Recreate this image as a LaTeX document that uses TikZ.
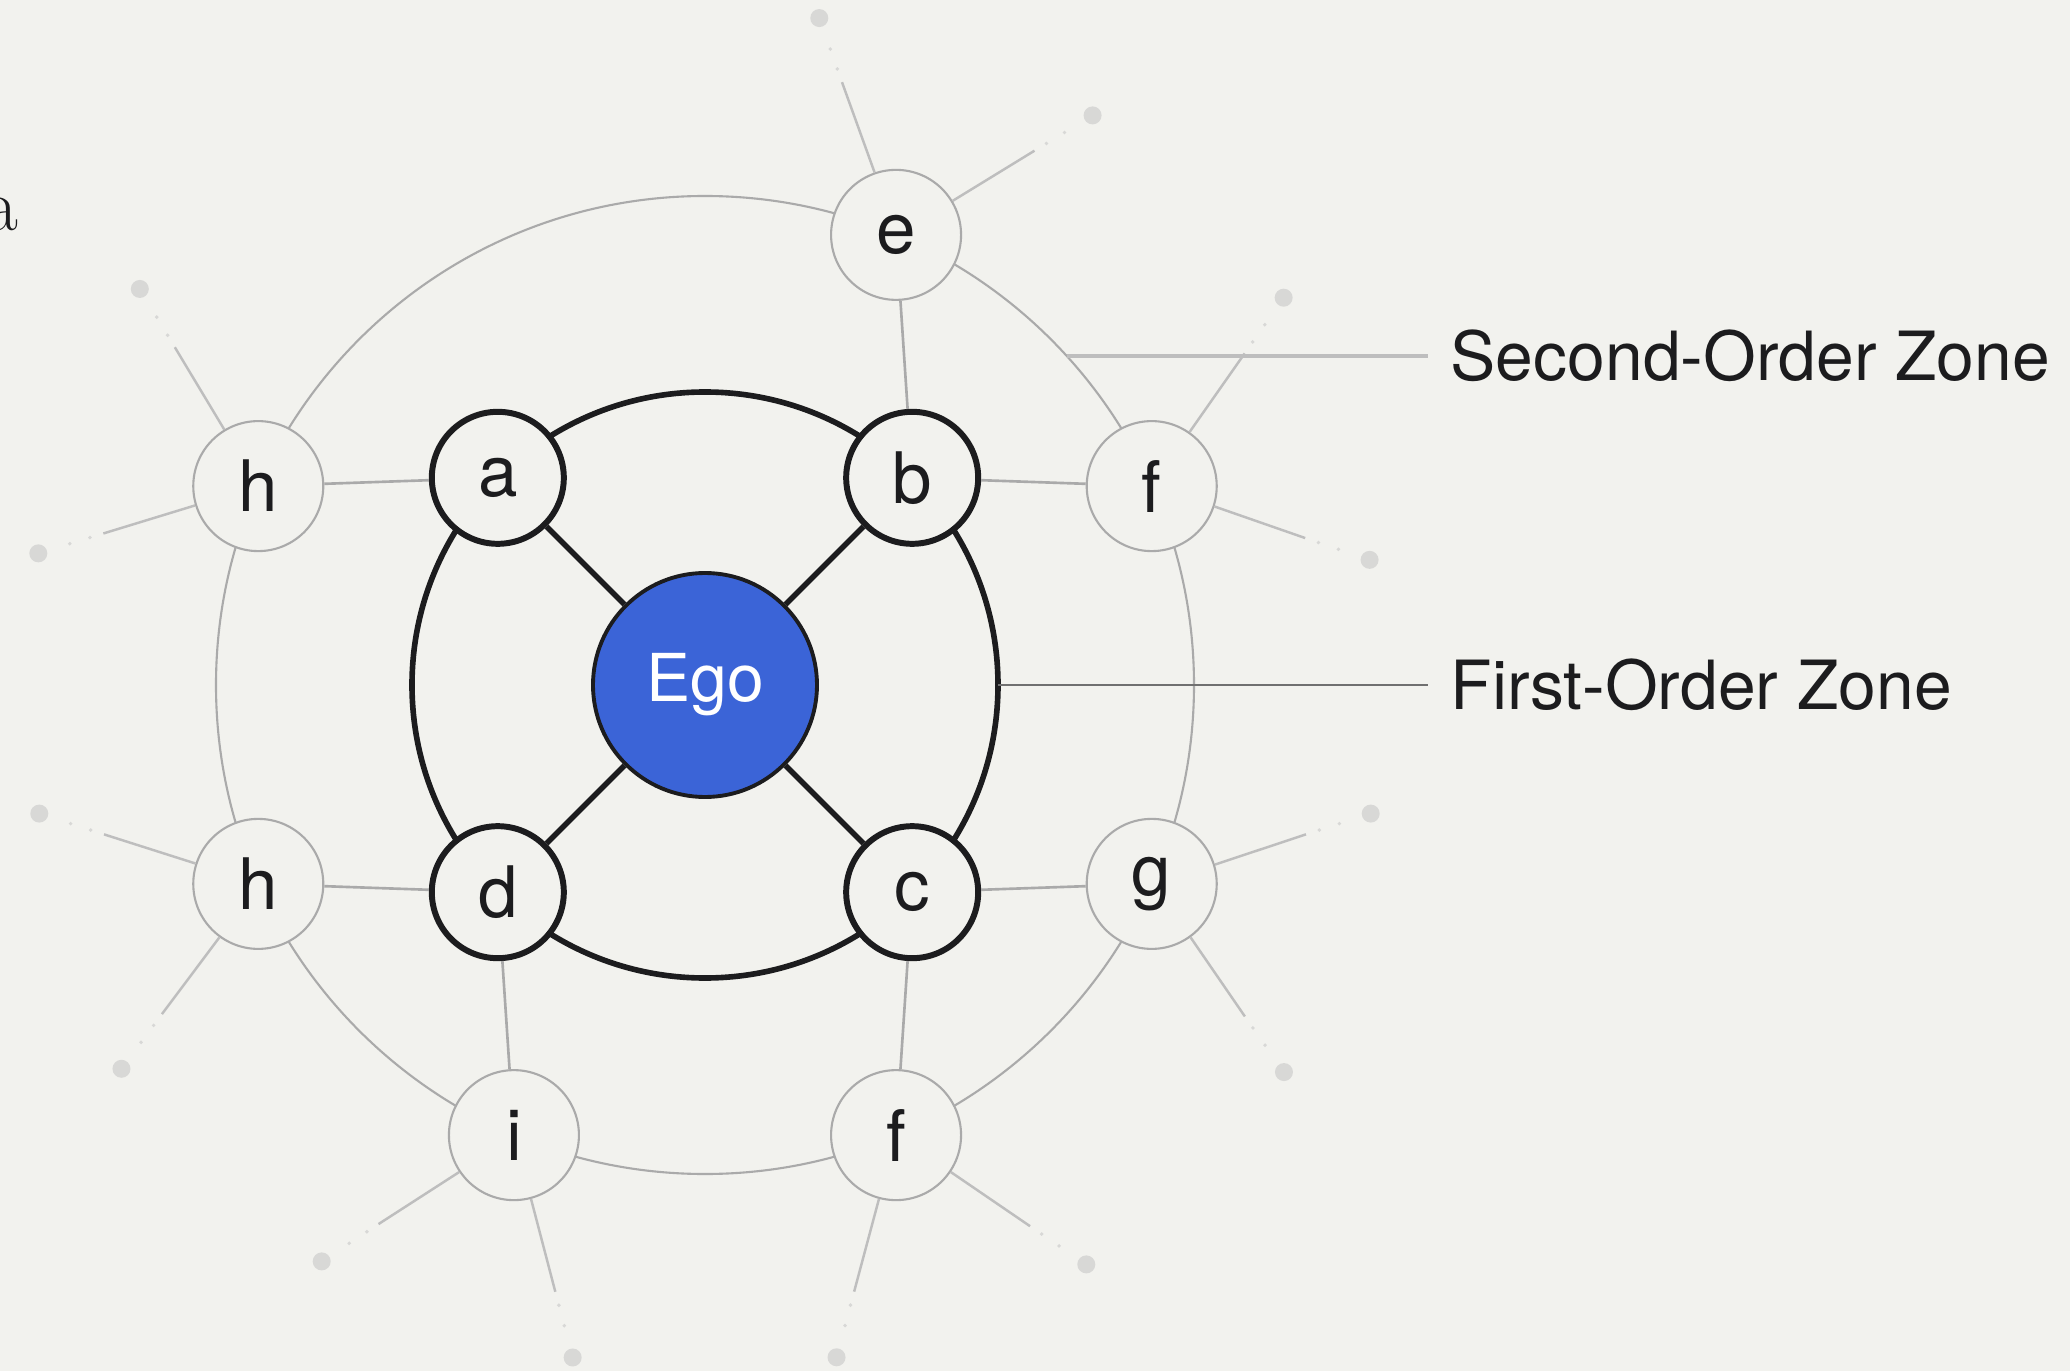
\documentclass[tikz,border=0pt]{standalone}
\usepackage{fontspec}
\setsansfont{TeX Gyre Heros}
\usetikzlibrary{calc}
\definecolor{bg}{RGB}{242,242,238}
\definecolor{egoblue}{RGB}{59,100,215}
\definecolor{ink}{RGB}{28,28,30}
\definecolor{ringgray}{RGB}{170,170,170}
\definecolor{stubgray}{RGB}{190,190,190}
\definecolor{dotgray}{RGB}{216,216,214}
\definecolor{zonegray}{RGB}{112,112,112}
\begin{document}
\begin{tikzpicture}[font=\sffamily,
    ego/.style={circle, fill=egoblue, draw=ink, line width=1.1pt, minimum size=2.24cm, inner sep=0pt, text=white, font=\sffamily\fontsize{18.8}{22}\selectfont},
    first/.style={circle, fill=bg, draw=ink, line width=1.7pt, minimum size=1.32cm, inner sep=0pt, text=ink, font=\sffamily\fontsize{20.2}{24}\selectfont},
    second/.style={circle, fill=bg, draw=ringgray, line width=0.6pt, minimum size=1.30cm, inner sep=0pt, text=ink, font=\sffamily\fontsize{20.2}{24}\selectfont},
    tie/.style={draw=ink, line width=1.6pt},
    link/.style={draw=ringgray, line width=0.75pt},
    stub/.style={draw=stubgray, line width=0.7pt},
    stubdots/.style={draw=dotgray, line width=1.1pt, line cap=round, dash pattern=on 0pt off 6pt},
    zone/.style={anchor=west, inner xsep=0.22cm, inner ysep=0pt, text=ink, font=\sffamily\fontsize{19.3}{23}\selectfont}]
    \fill[bg] (-7.05,-6.86) rectangle (13.65,6.85);
    \useasboundingbox (-7.05,-6.86) rectangle (13.65,6.85);
    \node[anchor=base east, inner sep=0pt, text=ink, font=\rmfamily\fontsize{21}{25}\selectfont] (stray) at (-6.86,4.54) {a};
    % zones
    \draw[ringgray, line width=0.6pt] (0,0) circle (4.89);
    \draw[ink, line width=1.6pt] (0,0) circle (2.93);
    \node[ego] (ego) at (0,0) {Ego};
    \node[first] (a) at (135:2.93) {a};
    \node[first] (b) at (45:2.93) {b};
    \node[first] (c) at (-45:2.93) {c};
    \node[first] (d) at (-135:2.93) {d};
    \node[second] (e) at (67:4.89) {e};
    \node[second] (f1) at (24:4.89) {f};
    \node[second] (g) at (-24:4.89) {g};
    \node[second] (f2) at (-67:4.89) {f};
    \node[second] (i) at (-113:4.89) {i};
    \node[second] (h2) at (-156:4.89) {h};
    \node[second] (h1) at (156:4.89) {h};
    \foreach \n in {a,b,c,d}
        \draw[tie] (ego) -- (\n);
    \draw[link] (a) -- (h1);
    \draw[link] (b) -- (e);
    \draw[link] (b) -- (f1);
    \draw[link] (c) -- (g);
    \draw[link] (c) -- (f2);
    \draw[link] (d) -- (i);
    \draw[link] (d) -- (h2);
    % loose ends
    \foreach \n/\ang in {e/109.5, e/31.3, h1/121, h1/197, f1/55, f1/-18.7, g/17.8, g/-54.9,
                         f2/-34.2, f2/-105, i/-146.7, i/-75.2, h2/162.2, h2/-126.5} {
        \coordinate (cut) at ($(\n)+(\ang:1.62)$);
        \coordinate (tip) at ($(\n)+(\ang:2.30)$);
        \draw[stub] (\n.\ang) -- (cut);
        \draw[stubdots] ($(\n)+(\ang:1.76)$) -- ($(\n)+(\ang:2.16)$);
        \fill[dotgray] (tip) circle (0.09);
    }
    % labels
    \coordinate (rim2) at ({sqrt(4.89*4.89-3.29*3.29)},3.29);
    \coordinate (rim1) at (2.93,0);
    \node[zone] (zone2) at (7.23,3.29) {Second-Order Zone};
    \node[zone] (zone1) at (7.23,0) {First-Order Zone};
    \draw[stubgray, line width=0.9pt] (rim2) -- (zone2.west);
    \draw[zonegray, line width=0.85pt] (rim1) -- (zone1.west);
\end{tikzpicture}
\end{document}
